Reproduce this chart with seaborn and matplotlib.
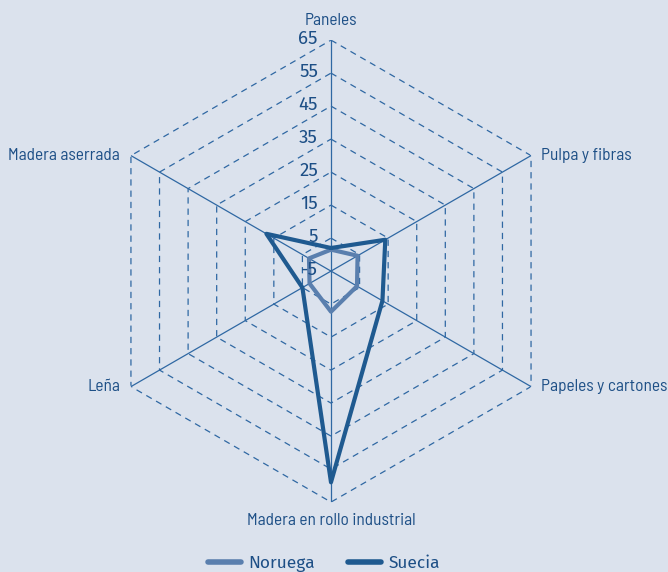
import numpy as np
import pandas as pd
import matplotlib
matplotlib.use("Agg")
import matplotlib.pyplot as plt
import matplotlib.transforms as mtransforms
from matplotlib.lines import Line2D
import seaborn as sns

categorias = ["Paneles", "Pulpa y fibras", "Papeles y cartones",
              "Madera en rollo industrial", "Leña", "Madera aserrada"]
noruega = [1.5, 4.3, 4.1, 7.3, 2.5, 2.7]
suecia = [2, 14, 13, 59, 5, 17.6]
anillos = [5, 15, 25, 35, 45, 55, 65]
etiquetas_r = [-5, 5, 15, 25, 35, 45, 55, 65]

BG = "#dbe2ed"
TXT = "#1d4f86"
GRID = "#2f68a3"
colores = {"Noruega": "#5a7fae", "Suecia": "#1f5a90"}

sns.set_theme(style="white")
plt.rcParams["font.family"] = ["Barlow Semi Condensed", "DejaVu Sans"]

fig = plt.figure(figsize=(6.68, 5.72), dpi=100, facecolor=BG)
ax = fig.add_axes([0.1497, 0.1222, 0.6916, 0.8077], projection="polar")
ax.set_theta_offset(np.pi / 2)
ax.set_theta_direction(-1)
ax.patch.set_visible(False)
ax.spines["polar"].set_visible(False)
ax.grid(False)

n = len(categorias)
ang = np.arange(n) * 2 * np.pi / n
ang_c = np.append(ang, ang[0])

# hexagonal grid
for r in anillos:
    ax.plot(ang_c, [r] * (n + 1), color=GRID, lw=0.9, ls=(0, (5, 4)), zorder=1)
for a in ang:
    ax.plot([a, a], [-5, 65], color=GRID, lw=0.9, zorder=1)

# series
filas = []
for pais, vals in [("Noruega", noruega), ("Suecia", suecia)]:
    for a, v in zip(ang_c, vals + vals[:1]):
        filas.append({"ang": a, "valor": v, "pais": pais})
df = pd.DataFrame(filas)
sns.lineplot(data=df, x="ang", y="valor", hue="pais", palette=colores,
             sort=False, estimator=None, lw=3, ax=ax, legend=False, zorder=3)
ax.set_xlabel("")
ax.set_ylabel("")
ax.set_xticks([])
ax.set_yticks([])
ax.set_ylim(-5, 65)

# radial labels
off = mtransforms.offset_copy(ax.transData, fig=fig, x=-13, y=1, units="dots")
for r in etiquetas_r:
    ax.text(0, r, str(r), transform=off, ha="right", va="center",
            fontsize=13.5, color=TXT, family=["Fira Sans", "DejaVu Sans"])

# category labels
for a, c in zip(ang, categorias):
    deg = round(np.degrees(a)) % 360
    if deg == 0:
        ha, va, dx, dy = "center", "bottom", 0, 12
    elif deg == 180:
        ha, va, dx, dy = "center", "top", 0, -11
    elif deg < 180:
        ha, va, dx, dy = "left", "center", 10, 0
    else:
        ha, va, dx, dy = "right", "center", -11, 0
    t = mtransforms.offset_copy(ax.transData, fig=fig, x=dx, y=dy, units="dots")
    ax.text(a, 65, c, transform=t, ha=ha, va=va, fontsize=12.5, color=TXT)

handles = [Line2D([], [], color=colores[p], lw=4) for p in ["Noruega", "Suecia"]]
leg = fig.legend(handles, ["Noruega", "Suecia"], loc="lower center",
                 bbox_to_anchor=(0.485, -0.027), ncol=2, frameon=False,
                 prop={"family": ["Fira Sans", "DejaVu Sans"], "size": 12.5},
                 handlelength=1.9, columnspacing=1.9, handletextpad=0.45)
for t in leg.get_texts():
    t.set_color(TXT)

fig.savefig("out.png", dpi=100, facecolor=BG)
